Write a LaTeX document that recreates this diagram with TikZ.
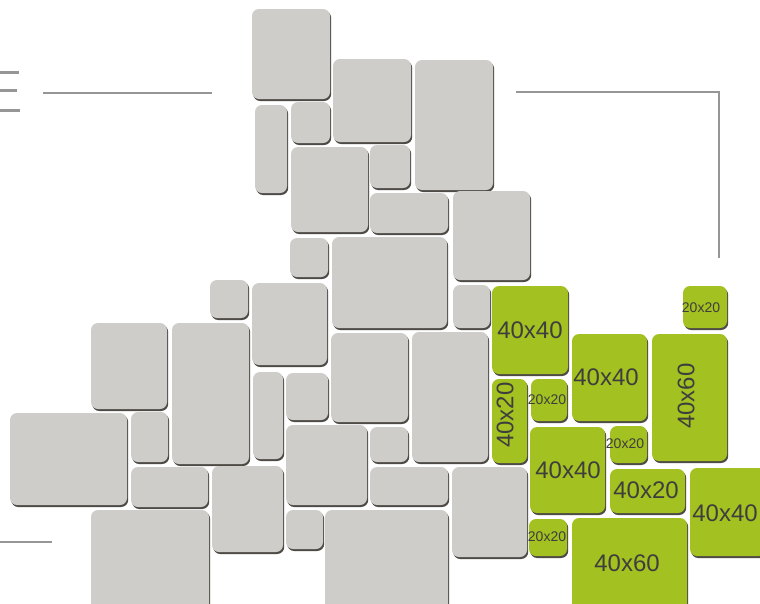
\documentclass[tikz,border=0pt]{standalone}
\usepackage{fontspec}
\setmainfont{Liberation Sans}
\usetikzlibrary{shadows}
\definecolor{stonegrey}{RGB}{207,205,201}
\definecolor{stonegreen}{RGB}{163,193,32}
\definecolor{stoneshadow}{RGB}{78,74,70}
\definecolor{rulegrey}{RGB}{150,150,150}
\definecolor{labelgrey}{RGB}{62,62,62}

\begin{document}
\begin{tikzpicture}[x=1pt,y=-1pt,
  paver/.style={fill=stonegrey,rounded corners=7pt,
    drop shadow={shadow xshift=1.2pt,shadow yshift=-2pt,fill=stoneshadow,opacity=1}},
  greenpaver/.style={paver,fill=stonegreen},
  bigtag/.style={text=labelgrey,inner sep=0pt,font=\fontsize{24}{24}\selectfont},
  smalltag/.style={text=labelgrey,inner sep=0pt,font=\fontsize{14}{14}\selectfont},
  rule/.style={rulegrey,line width=1.6pt},
  bar/.style={rulegrey,line width=3pt}]
\useasboundingbox (0,0) rectangle (760,603);
\clip (0,0) rectangle (760,603);
% grey stones
\foreach \xa/\ya/\xb/\yb in {252/9/330/99, 333/59/411/142, 255/105/287/193, 291/102/330/143,
    291/147/368/232, 370/145/410/188, 415/60/493/190, 370/193/448/233, 453/191/530/280,
    290/238/328/277, 332/237/447/328, 210/280/248/318, 252/283/327/365, 453/285/490/328,
    91/323/167/409, 172/323/249/464, 331/333/408/422, 412/332/488/462, 10/413/127/505,
    131/412/168/462, 253/372/283/459, 286/373/328/420, 286/425/367/505, 370/427/408/462,
    370/467/448/505, 131/467/208/507, 212/466/283/552, 91/510/209/612, 286/510/323/549,
    325/510/448/612, 452/467/527/557}
  \path[paver] (\xa,\ya) rectangle (\xb,\yb);
% green stones
\path[greenpaver] (492,286) rectangle (568,374);
\path[greenpaver] (683,286) rectangle (727,328);
\path[greenpaver] (572,334) rectangle (647,421);
\path[greenpaver] (652,334) rectangle (727,461);
\path[greenpaver] (492,379) rectangle (527,463);
\path[greenpaver] (531,379) rectangle (567,421);
\path[greenpaver] (530,427) rectangle (605,513);
\path[greenpaver] (610,426) rectangle (647,463);
\path[greenpaver] (610,469) rectangle (685,513);
\path[greenpaver] (690,468) rectangle (766,556);
\path[greenpaver] (529,519) rectangle (567,556);
\path[greenpaver] (572,518) rectangle (687,612);
% size labels
\node[bigtag] (g1) at (530,330) {40x40};
\node[smalltag] (g2) at (701,308) {20x20};
\node[bigtag] (g3) at (606,377) {40x40};
\node[bigtag,rotate=90] (g4) at (686,396) {40x60};
\node[bigtag,rotate=90] (g5) at (505,415) {40x20};
\node[smalltag] (g6) at (547,400) {20x20};
\node[bigtag] (g7) at (568,470) {40x40};
\node[smalltag] (g8) at (625,444) {20x20};
\node[bigtag] (g9) at (646,490) {40x20};
\node[bigtag] (g10) at (725,513) {40x40};
\node[smalltag] (g11) at (547,537) {20x20};
\node[bigtag] (g12) at (627,563) {40x60};
% rules
\draw[bar] (0,72) -- (19,72);
\draw[bar] (0,90) -- (17,90);
\draw[bar] (0,110) -- (20,110);
\draw[rule] (43,93) -- (212,93);
\draw[rule] (516,92) -- (719,92) -- (719,258);
\draw[rule] (0,542) -- (52,542);
\end{tikzpicture}
\end{document}
